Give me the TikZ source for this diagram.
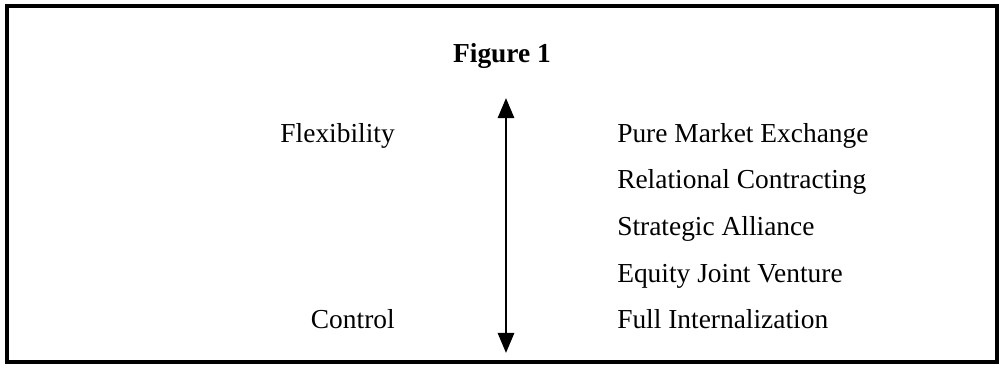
\documentclass[tikz,border=0pt]{standalone}
\usepackage{fontspec}
\setmainfont{Liberation Serif}
\usetikzlibrary{arrows.meta}
\begin{document}
\begin{tikzpicture}[
        x=0.025cm, y=-0.025cm,
        txt/.style={font=\fontsize{19.5}{23}\selectfont, inner sep=0pt},
        frame/.style={draw, line width=2.2pt},
        axisline/.style={line width=2pt, {Triangle[width=0.4cm, length=0.5cm]}-{Triangle[width=0.4cm, length=0.5cm]}}
    ]
        \useasboundingbox (0,0) rectangle (1002,369);
        % outer box
        \draw[frame] (7,6) rectangle (997,362);
        \node[txt, font=\fontsize{19.5}{23}\selectfont\bfseries, anchor=base] (title) at (502,62) {Figure 1};
        % the two ends of the scale
        \node[txt, anchor=base east] (flex) at (395,142) {Flexibility};
        \node[txt, anchor=base east] (ctrl) at (395,328) {Control};
        \coordinate (top) at (506,98);
        \coordinate (bot) at (506,353);
        \draw[axisline] (bot) -- (top);
        % forms of governance
        \node[txt, anchor=base west] (market) at (617,142) {Pure Market Exchange};
        \node[txt, anchor=base west] (relational) at (617,188) {Relational Contracting};
        \node[txt, anchor=base west] (alliance) at (617,235) {Strategic Alliance};
        \node[txt, anchor=base west] (venture) at (617,282) {Equity Joint Venture};
        \node[txt, anchor=base west] (internal) at (617,328) {Full Internalization};
    \end{tikzpicture}
\end{document}
